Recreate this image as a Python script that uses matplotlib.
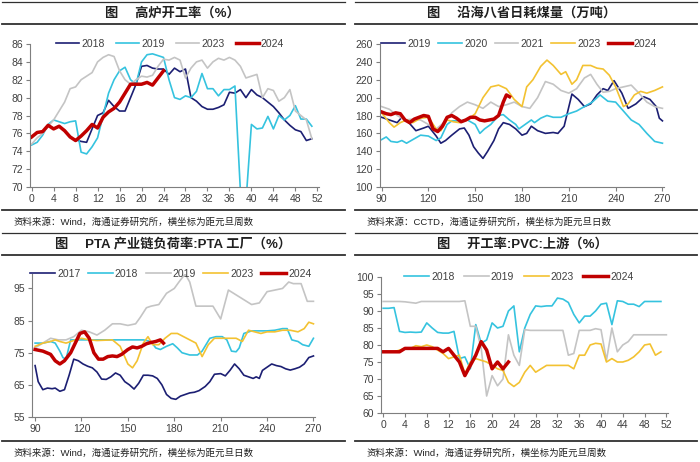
import matplotlib
matplotlib.use("Agg")
import matplotlib.pyplot as plt
from matplotlib.lines import Line2D

plt.rcParams['font.family'] = ['Liberation Sans', 'Noto Sans CJK SC', 'DejaVu Sans']

#colours used by the report
navy = '#1c1f73'
cyan = '#35c3df'
grey = '#c4c4c4'
gold = '#f3c232'
red = '#c00000'
txt = '#404040'
cjk = ['Liberation Sans', 'Noto Sans CJK SC', 'DejaVu Sans']

#panel 1: blast furnace utilisation, x = week of year
bf_weeks = list(range(0, 52))
bf_2018_weeks = list(range(8, 52))
bf_2018 = [75.3, 75.1, 75.0, 76.5, 78.0, 78.3, 79.7, 79.0, 78.5, 78.5, 80.0, 81.5, 83.5, 83.6,
           83.3, 83.2, 83.2, 82.6, 83.3, 82.9, 83.2, 80.0, 79.6, 79.0, 78.7, 78.7, 78.9, 79.2,
           80.6, 80.5, 80.9, 80.0, 80.9, 80.3, 80.0, 79.5, 79.0, 78.3, 77.5, 76.9, 76.4, 76.2,
           75.2, 75.4]
bf_2019 = [74.7, 75.0, 75.8, 77.0, 77.5, 77.3, 77.1, 77.3, 77.4, 73.9, 73.7, 74.5, 75.5, 78.0,
           80.5, 82.0, 83.0, 83.4, 82.0, 81.5, 84.0, 84.8, 84.9, 84.7, 84.5, 82.0, 80.0, 79.8,
           80.2, 80.0, 80.7, 82.7, 81.0, 81.0, 80.2, 80.9, 80.9, 81.3, 69.5, 68.3, 77.0, 76.5,
           76.6, 77.9, 76.5, 78.0, 77.5, 78.0, 79.1, 77.6, 77.6, 76.8]
bf_2023 = [74.8, 75.5, 76.0, 76.8, 77.5, 78.5, 79.5, 81.0, 81.2, 82.0, 82.4, 82.8, 84.0, 84.5,
           84.8, 84.6, 83.0, 82.0, 81.5, 82.0, 82.4, 82.3, 82.5, 83.5, 84.3, 84.2, 84.5, 84.2,
           82.2, 83.3, 84.0, 84.2, 83.3, 84.0, 84.4, 84.2, 84.5, 84.2, 83.5, 82.2, 82.4, 82.6,
           80.0, 81.0, 80.8, 79.6, 80.0, 80.9, 78.5, 78.0, 77.5, 75.4]
bf_2024_weeks = list(range(0, 25))
bf_2024 = [75.6, 76.1, 76.2, 76.9, 76.5, 76.8, 76.3, 75.6, 75.2, 75.7, 76.3, 77.0, 76.6, 77.8,
           78.4, 78.8, 79.5, 80.5, 81.5, 81.5, 81.5, 81.7, 81.4, 82.2, 83.0]

#panel 2: coastal coal burn, x = day of year
coal_2019_days = [90, 95, 100, 103, 107, 112, 117, 120, 125, 128, 131, 135, 140, 143, 146, 149,
                  152, 155, 158, 162, 165, 168, 172, 176, 180, 183, 186, 190, 195, 200, 203, 207,
                  212, 216, 220, 224, 228, 232, 235, 239, 244, 248, 253, 258, 262, 266, 268, 270]
coal_2019 = [178, 175, 172, 178, 173, 163, 166, 168, 157, 149, 152, 158, 165, 166, 158, 145,
             138, 132, 140, 152, 165, 172, 170, 165, 158, 160, 168, 163, 160, 161, 160, 168,
             204, 198, 190, 193, 203, 210, 208, 219, 205, 188, 193, 201, 198, 190, 177, 174]
coal_2020_days = [90, 93, 96, 100, 103, 106, 110, 115, 120, 125, 128, 132, 135, 140, 145, 150,
                  153, 156, 160, 165, 168, 172, 176, 178, 182, 186, 188, 192, 196, 200, 205, 210,
                  215, 220, 225, 230, 235, 240, 245, 250, 255, 260, 265, 270]
coal_2020 = [153, 156, 151, 150, 152, 149, 153, 158, 157, 152, 155, 170, 174, 174, 175, 170,
             160, 165, 170, 180, 181, 175, 170, 165, 170, 175, 172, 177, 180, 178, 178, 182,
             185, 190, 195, 203, 196, 195, 185, 175, 170, 160, 151, 149]
coal_2021_days = [90, 95, 100, 105, 110, 115, 120, 125, 130, 135, 140, 145, 150, 155, 160, 165,
                  170, 175, 180, 185, 190, 195, 200, 205, 210, 215, 220, 224, 228, 232, 236, 240,
                  245, 250, 255, 260, 265, 270]
coal_2021 = [190, 187, 180, 175, 176, 175, 170, 165, 172, 183, 190, 195, 192, 188, 195, 190,
             192, 195, 190, 188, 200, 218, 215, 208, 205, 210, 222, 226, 215, 206, 207, 210,
             212, 214, 205, 195, 190, 188]
coal_2023_days = [90, 95, 98, 102, 106, 110, 115, 120, 125, 128, 132, 136, 140, 145, 150, 155,
                  160, 165, 170, 175, 180, 183, 187, 192, 196, 200, 205, 208, 212, 215, 219, 224,
                  228, 232, 236, 240, 245, 248, 252, 256, 260, 265, 270]
coal_2023 = [183, 172, 167, 172, 175, 172, 177, 178, 165, 163, 175, 173, 172, 175, 182, 200,
             212, 214, 210, 198, 190, 212, 220, 235, 242, 236, 226, 229, 215, 220, 236, 236,
             233, 232, 225, 212, 190, 193, 203, 207, 205, 208, 212]
coal_2024_days = [90, 93, 96, 99, 102, 105, 108, 111, 114, 117, 120, 123, 126, 129, 132, 135,
                  138, 141, 144, 147, 150, 153, 156, 159, 162, 165, 168, 170, 172]
coal_2024 = [184, 182, 181, 183, 182, 175, 172, 176, 178, 180, 179, 165, 162, 168, 178, 180,
             177, 173, 175, 178, 178, 175, 174, 175, 176, 180, 195, 203, 201]

#panel 3: PTA plant load, x = day of year
pta_2017_days = [90, 92, 95, 98, 101, 103, 106, 109, 112, 115, 118, 121, 124, 127, 130, 133,
                 136, 139, 142, 145, 148, 151, 154, 157, 160, 163, 166, 169, 172, 175, 178, 181,
                 184, 187, 190, 193, 196, 200, 203, 206, 210, 213, 216, 219, 222, 225, 228, 231,
                 233, 235, 237, 240, 243, 246, 249, 252, 255, 258, 261, 264, 267, 270]
pta_2017 = [71.0, 66.0, 63.5, 64.0, 63.8, 64.0, 63.0, 63.5, 68.0, 73.0, 72.5, 71.5, 70.8, 70.3,
            69.0, 66.8, 66.7, 67.5, 68.7, 68.0, 66.0, 65.0, 63.7, 65.5, 68.0, 68.0, 67.8, 67.0,
            65.0, 62.0, 60.8, 60.5, 61.5, 62.0, 62.5, 62.7, 63.2, 64.5, 66.0, 68.3, 68.5, 67.8,
            69.5, 71.5, 70.0, 68.0, 67.5, 67.0, 67.5, 67.0, 69.5, 70.5, 71.5, 71.0, 70.7, 70.0,
            69.6, 70.0, 70.5, 71.5, 73.5, 74.0]
pta_2018_days = [90, 95, 100, 103, 106, 108, 110, 113, 120, 130, 140, 150, 160, 165, 168, 171,
                 175, 179, 182, 185, 190, 195, 198, 203, 207, 211, 214, 217, 220, 222, 225, 230,
                 240, 245, 250, 253, 256, 260, 263, 267, 270]
pta_2018 = [78.0, 78.0, 78.5, 78.0, 75.5, 73.5, 73.0, 79.0, 79.0, 79.0, 79.0, 79.0, 79.0, 78.5,
            76.5, 76.0, 77.0, 77.8, 76.5, 75.0, 74.3, 74.3, 75.5, 79.5, 80.0, 80.0, 79.0, 75.5,
            75.3, 76.5, 81.0, 81.8, 81.8, 82.0, 82.5, 82.5, 79.0, 78.5, 77.5, 77.0, 79.5]
pta_2019_days = [90, 95, 100, 105, 110, 115, 120, 125, 130, 135, 140, 145, 150, 155, 158, 162,
                 165, 170, 175, 180, 183, 187, 190, 194, 200, 205, 210, 215, 220, 225, 230, 235,
                 240, 245, 250, 254, 257, 262, 266, 270]
pta_2019 = [76.5, 78.0, 79.5, 79.0, 79.0, 80.0, 82.0, 81.5, 80.5, 82.0, 84.0, 84.0, 83.5, 84.0,
            86.0, 89.0, 89.5, 90.0, 93.5, 95.0, 97.0, 99.5, 97.0, 89.5, 89.5, 89.5, 85.5, 94.5,
            93.0, 91.5, 90.0, 90.5, 94.0, 94.5, 95.0, 97.0, 96.5, 96.5, 91.0, 91.0]
pta_2023_days = [90, 95, 100, 103, 106, 110, 115, 120, 125, 130, 140, 145, 150, 153, 156, 160,
                 163, 166, 170, 174, 178, 182, 186, 190, 194, 198, 202, 206, 210, 215, 220, 224,
                 228, 232, 236, 240, 245, 250, 255, 260, 264, 267, 270]
pta_2023 = [77.0, 78.0, 78.5, 79.0, 78.5, 78.0, 78.8, 79.5, 79.0, 78.8, 79.0, 77.0, 71.5, 70.3,
            72.5, 78.0, 80.0, 77.5, 77.5, 79.5, 81.0, 81.0, 80.0, 79.0, 78.0, 73.8, 77.5, 79.5,
            79.5, 79.5, 79.5, 78.5, 82.0, 81.5, 81.0, 81.5, 81.5, 82.0, 82.0, 81.5, 82.5, 84.5,
            84.0]
pta_2024_days = [90, 95, 100, 103, 106, 109, 113, 116, 119, 122, 125, 128, 131, 134, 137, 140,
                 143, 146, 150, 153, 156, 159, 162, 165, 168, 171, 173]
pta_2024 = [76.0, 75.5, 74.5, 72.5, 71.5, 72.5, 75.0, 78.0, 81.0, 81.5, 79.5, 75.0, 73.0, 73.0,
            73.8, 74.0, 73.8, 74.5, 76.0, 76.8, 76.5, 77.0, 77.8, 78.2, 78.5, 79.0, 78.0]

#panel 4: PVC upstream utilisation, x = week of year
pvc_weeks = list(range(0, 52))
pvc_2018 = [90.8, 90.8, 91.0, 84.0, 83.7, 83.8, 83.7, 83.8, 86.5, 85.0, 83.7, 83.5, 83.5, 84.0,
            76.0, 76.5, 73.0, 86.0, 80.5, 81.5, 86.5, 85.0, 85.5, 90.0, 91.5, 78.0, 85.0, 89.0,
            91.5, 91.3, 91.5, 91.5, 93.8, 93.5, 92.5, 89.0, 86.5, 88.5, 88.5, 90.0, 92.0, 92.3,
            86.0, 93.0, 92.8, 92.0, 92.0, 91.3, 92.8, 92.8, 92.8, 92.8]
pvc_2019_weeks = list(range(0, 53))
pvc_2019 = [92.8, 92.8, 92.8, 92.8, 92.7, 92.5, 92.3, 92.8, 92.8, 92.8, 92.8, 92.8, 92.8, 92.8,
            92.8, 93.0, 85.5, 85.5, 79.0, 65.0, 71.0, 68.0, 70.0, 83.0, 77.0, 74.0, 84.5, 84.3,
            84.3, 84.3, 84.3, 84.3, 84.3, 84.3, 77.0, 77.5, 84.3, 84.3, 84.3, 84.8, 84.5, 75.5,
            85.0, 78.0, 80.0, 81.0, 83.0, 83.0, 83.0, 83.0, 83.0, 83.0, 83.0]
pvc_2023 = [78.0, 78.0, 78.0, 78.5, 79.0, 79.0, 79.8, 79.5, 80.0, 79.5, 78.5, 77.5, 76.0, 76.5,
            77.0, 71.5, 75.0, 76.0, 75.5, 75.0, 74.0, 73.0, 72.5, 69.0, 67.8, 69.0, 72.0, 74.0,
            72.0, 73.0, 74.0, 74.0, 74.0, 74.0, 74.0, 73.0, 77.0, 77.0, 80.0, 80.5, 80.3, 75.0,
            76.0, 75.0, 75.0, 75.5, 76.5, 78.0, 80.0, 80.3, 77.0, 78.0]
pvc_2024_weeks = list(range(0, 24))
pvc_2024 = [78, 78, 78, 78, 79, 79, 79, 79, 79, 79, 79, 78, 79, 77, 75, 71, 74, 77, 81, 78.5,
            73, 75, 73, 75]

fig = plt.figure(figsize=(7, 4.62), dpi=100)


def make_axes(l, t, r, b):
    #axes placed in pixel units of the 700x462 picture
    return fig.add_axes([l / 700, 1 - b / 462, (r - l) / 700, (b - t) / 462])


def frame(x0, x1, top, title, title_x, note):
    #header rules, title and source note round one panel
    for y, lw in [(top + 1.5, 0.9), (top + 24, 1.3), (top + 210, 1.3)]:
        fig.add_artist(Line2D([x0 / 700, x1 / 700], [1 - y / 462, 1 - y / 462],
                              color='#303030', lw=lw))
    fig.text(title_x / 700, 1 - (top + 13) / 462, title, ha='center', va='center',
             fontsize=9.5, fontweight='bold', color='#202020', family=cjk)
    fig.text((x0 + 12) / 700, 1 - (top + 222) / 462, note, ha='left', va='center',
             fontsize=6.8, color='#202020', family=cjk)


def style(ax, xlim, ylim, xticks, yticks, legend_x, colspace, handlelen):
    ax.set_xlim(*xlim)
    ax.set_ylim(*ylim)
    ax.set_xticks(xticks)
    ax.set_yticks(yticks)
    for s in ['top', 'right']:
        ax.spines[s].set_visible(False)
    for s in ['left', 'bottom']:
        ax.spines[s].set_color('#7f7f7f')
        ax.spines[s].set_linewidth(0.8)
    ax.tick_params(labelsize=7.5, colors='#7f7f7f', labelcolor=txt, length=3, width=0.8,
                   direction='out', pad=2)
    ax.legend(ncol=5, loc='center', bbox_to_anchor=(legend_x, 1.0), frameon=False,
              fontsize=7.5, labelcolor=txt, handlelength=handlelen, handletextpad=0.2,
              columnspacing=colspace, borderaxespad=0)


#panel 1
ax1 = make_axes(30, 44, 319, 187)
ax1.plot(bf_2018_weeks, bf_2018, color=navy, lw=1.2, label='2018')
ax1.plot(bf_weeks, bf_2019, color=cyan, lw=1.2, label='2019')
ax1.plot(bf_weeks, bf_2023, color=grey, lw=1.2, label='2023')
ax1.plot(bf_2024_weeks, bf_2024, color=red, lw=2.5, label='2024')
style(ax1, (-0.3, 52.3), (70, 86), range(0, 53, 4), range(70, 87, 2), 0.485, 1.1, 2.2)
frame(2, 345, 0, '图　 高炉开工率（%）', 172, '资料来源：Wind，海通证券研究所，横坐标为距元旦周数')

#panel 2
ax2 = make_axes(380, 44, 664, 187)
ax2.plot(coal_2019_days, coal_2019, color=navy, lw=1.2, label='2019')
ax2.plot(coal_2020_days, coal_2020, color=cyan, lw=1.2, label='2020')
ax2.plot(coal_2021_days, coal_2021, color=grey, lw=1.2, label='2021')
ax2.plot(coal_2023_days, coal_2023, color=gold, lw=1.2, label='2023')
ax2.plot(coal_2024_days, coal_2024, color=red, lw=2.5, label='2024')
style(ax2, (89, 271), (100, 260), range(90, 271, 30), range(100, 261, 20), 0.49, 0.7, 2.3)
frame(355, 697, 0, '图　 沿海八省日耗煤量（万吨）', 522, '资料来源：CCTD，海通证券研究所，横坐标为距元旦日数')

#panel 3
ax3 = make_axes(32, 274, 315, 417)
ax3.plot(pta_2017_days, pta_2017, color=navy, lw=1.2, label='2017')
ax3.plot(pta_2018_days, pta_2018, color=cyan, lw=1.2, label='2018')
ax3.plot(pta_2019_days, pta_2019, color=grey, lw=1.2, label='2019')
ax3.plot(pta_2023_days, pta_2023, color=gold, lw=1.2, label='2023')
ax3.plot(pta_2024_days, pta_2024, color=red, lw=2.5, label='2024')
style(ax3, (88, 271), (55, 99.5), range(90, 271, 30), range(55, 96, 10), 0.49, 0.7, 2.4)
frame(2, 345, 231, '图　 PTA 产业链负荷率:PTA 工厂（%）', 173, '资料来源：Wind，海通证券研究所，横坐标为距元旦日数')

#panel 4
ax4 = make_axes(381, 277, 668, 413)
ax4.plot(pvc_weeks, pvc_2018, color=cyan, lw=1.2, label='2018')
ax4.plot(pvc_2019_weeks, pvc_2019, color=grey, lw=1.2, label='2019')
ax4.plot(pvc_weeks, pvc_2023, color=gold, lw=1.2, label='2023')
ax4.plot(pvc_2024_weeks, pvc_2024, color=red, lw=2.5, label='2024')
style(ax4, (-0.4, 52.3), (60, 100), range(0, 53, 4), range(60, 101, 5), 0.48, 0.9, 2.4)
frame(355, 697, 231, '图　 开工率:PVC:上游（%）', 522, '资料来源：Wind，海通证券研究所，横坐标为距元旦周数')

fig.savefig('out.png', dpi=100)
